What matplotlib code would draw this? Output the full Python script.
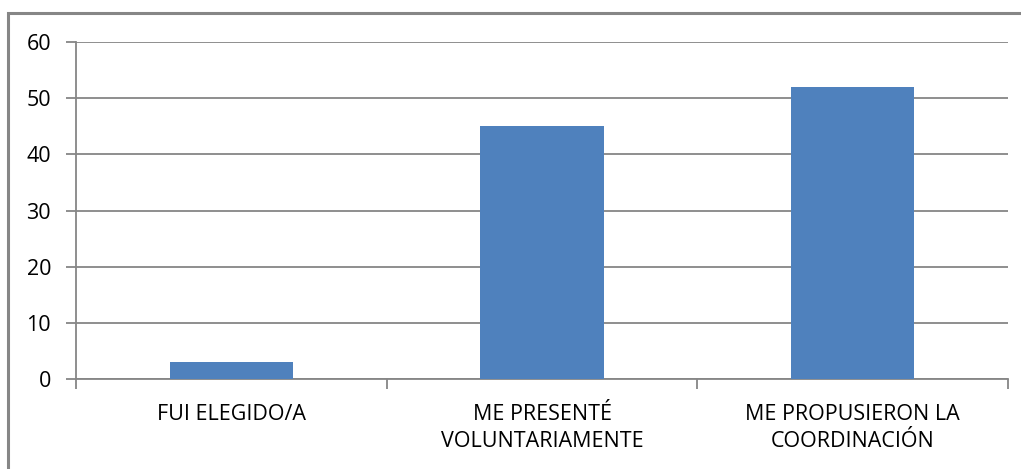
"""
Bar chart: forma de acceso a la coordinación
"""
import matplotlib
matplotlib.use("Agg")
import matplotlib.pyplot as plt
from matplotlib.patches import Rectangle

# data
categories = ["FUI ELEGIDO/A", "ME PRESENTÉ\nVOLUNTARIAMENTE",
              "ME PROPUSIERON LA\nCOORDINACIÓN"]
values = [3, 45, 52]
y_ticks = [0, 10, 20, 30, 40, 50, 60]

bar_color = "#4F81BD"
line_color = "#868686"

plt.rcParams['font.family'] = ['Open Sans', 'DejaVu Sans']

fig = plt.figure(figsize=(10.21, 4.69), dpi=100)
ax = fig.add_axes([76 / 1021, 1 - 379 / 469, 932 / 1021, 337 / 469])

x = list(range(len(categories)))
ax.bar(x, values, width=0.396, color=bar_color, zorder=3)

ax.set_xlim(-0.5, len(categories) - 0.5)
ax.set_ylim(0, 60)
ax.set_yticks(y_ticks)
ax.yaxis.grid(True, color=line_color, linewidth=1.3)
ax.set_axisbelow(True)

# category labels centred, tick marks between categories
ax.set_xticks(x)
ax.set_xticklabels(categories, fontsize=15.5, color="#000000",
                   linespacing=1.4)
ax.set_xticks([i - 0.5 for i in range(len(categories) + 1)], minor=True)
ax.tick_params(axis="x", which="major", length=0, pad=18)
ax.tick_params(axis="x", which="minor", length=7, width=1.3,
               color=line_color, direction="out")
ax.tick_params(axis="y", length=7, width=1.3, color=line_color,
               labelsize=15.5, pad=11)

for side in ["top", "right"]:
    ax.spines[side].set_visible(False)
for side in ["left", "bottom"]:
    ax.spines[side].set_color(line_color)
    ax.spines[side].set_linewidth(1.3)

# outer frame of the chart area (only left and top edges visible)
fig.patches.append(Rectangle((8 / 1021, -0.1), 1.2, 1 - 13 / 469 + 0.1,
                             transform=fig.transFigure, fill=False,
                             edgecolor=line_color, linewidth=2.2))

fig.savefig("out.png", dpi=100)
